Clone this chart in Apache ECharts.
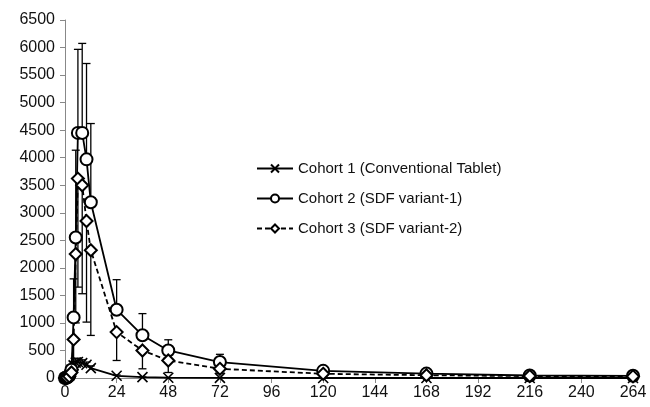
<!DOCTYPE html>
<html>
<head>
<meta charset="utf-8">
<script src="https://cdn.jsdelivr.net/npm/echarts@6/dist/echarts.min.js"></script>
<style>
  html, body { margin: 0; padding: 0; background: #fff; }
  #chart { width: 650px; height: 407px; }
</style>
</head>
<body>
<div id="chart"></div>
<script>
// time points (h)
const hours = [0, 0.5, 1, 2, 3, 4, 5, 6, 8, 10, 12, 24, 36, 48, 72, 120, 168, 216, 264];

// mean concentrations
const cohort1 = [0, 5, 20, 60, 150, 230, 280, 290, 270, 240, 180, 40, 15, 5, 2, 0, 0, 0, 0];
const cohort2 = [0, 2, 10, 40, 150, 1100, 2550, 4450, 4450, 3970, 3190, 1240, 775, 500, 290, 130, 80, 45, 40];
const cohort3 = [0, 2, 10, 30, 100, 700, 2250, 3620, 3500, 2850, 2320, 833, 500, 318, 167, 76, 50, 35, 30];

// SD (cohort 1 & 2 drawn upward, cohort 3 drawn downward)
const sd1 = [0, 0, 5, 20, 50, 60, 70, 70, 60, 50, 40, 15, 5, 2, 0, 0, 0, 0, 0];
const sd2 = [0, 0, 0, 20, 80, 700, 1586, 1517, 1625, 1740, 1430, 545, 394, 194, 140, 40, 30, 15, 10];
const sd3 = [0, 0, 0, 0, 0, 400, 1250, 1970, 1970, 1835, 1547, 515, 333, 218, 80, 30, 20, 10, 10];

const names = [
  "Cohort 1 (Conventional Tablet)",
  "Cohort 2 (SDF variant-1)",
  "Cohort 3 (SDF variant-2)",
];

const crossPath = "path://M0,0L10,10M10,0L0,10";

const pairs = (ys) => hours.map((t, i) => [t, ys[i]]);
const errData = (ys, sd, dir) => hours.map((t, i) => [t, ys[i], sd[i], dir]);

const renderErr = (params, api) => {
  const t = api.value(0);
  const v = api.value(1);
  const sd = api.value(2);
  const dir = api.value(3);
  if (!sd) return;
  const p1 = api.coord([t, v]);
  const p2 = api.coord([t, v + dir * sd]);
  const style = { stroke: "#000", lineWidth: 1.3 };
  return {
    type: "group",
    children: [
      { type: "line", shape: { x1: p1[0], y1: p1[1], x2: p2[0], y2: p2[1] }, style },
      { type: "line", shape: { x1: p2[0] - 4, y1: p2[1], x2: p2[0] + 4, y2: p2[1] }, style },
    ],
  };
};

const chart = echarts.init(document.getElementById("chart"));
const font = "Liberation Sans, Arial, sans-serif";

chart.setOption({
  animation: false,
  grid: { left: 65, right: 17, top: 20, bottom: 29 },
  legend: {
    orient: "vertical",
    left: 251,
    top: 156,
    itemWidth: 36,
    itemHeight: 10,
    itemGap: 15,
    data: names,
    textStyle: { fontFamily: font, fontSize: 15, color: "#111" },
  },
  xAxis: {
    type: "value",
    min: 0,
    max: 264,
    interval: 24,
    axisLine: { lineStyle: { color: "#888" } },
    axisTick: { show: true, length: 5, lineStyle: { color: "#888" } },
    axisLabel: { fontFamily: font, fontSize: 16, color: "#111", margin: 7 },
    splitLine: { show: false },
  },
  yAxis: {
    type: "value",
    min: 0,
    max: 6500,
    interval: 500,
    axisLine: { show: true, lineStyle: { color: "#888" } },
    axisTick: { show: true, length: 5, lineStyle: { color: "#888" } },
    axisLabel: {
      fontFamily: font, fontSize: 16, color: "#111", margin: 10,
      formatter: (v) => String(v),
    },
    splitLine: { show: false },
  },
  series: [
    {
      type: "custom",
      renderItem: renderErr,
      data: errData(cohort1, sd1, 1),
      encode: { x: 0, y: 1 },
      z: 1,
    },
    {
      type: "custom",
      renderItem: renderErr,
      data: errData(cohort2, sd2, 1),
      encode: { x: 0, y: 1 },
      z: 1,
    },
    {
      type: "custom",
      renderItem: renderErr,
      data: errData(cohort3, sd3, -1),
      encode: { x: 0, y: 1 },
      z: 1,
    },
    {
      name: names[0],
      type: "line",
      data: pairs(cohort1),
      symbol: crossPath,
      symbolSize: 10,
      showAllSymbol: true,
      lineStyle: { color: "#000", width: 1.8 },
      itemStyle: { color: "#000", borderColor: "#000", borderWidth: 1.6 },
      z: 3,
    },
    {
      name: names[1],
      type: "line",
      data: pairs(cohort2),
      symbol: "emptyCircle",
      symbolSize: 12,
      showAllSymbol: true,
      lineStyle: { color: "#000", width: 1.8 },
      itemStyle: { color: "#000", borderWidth: 1.6 },
      z: 3,
    },
    {
      name: names[2],
      type: "line",
      data: pairs(cohort3),
      symbol: "emptyDiamond",
      symbolSize: 12,
      showAllSymbol: true,
      lineStyle: { color: "#000", width: 1.8, type: [5, 3] },
      itemStyle: { color: "#000", borderWidth: 1.6 },
      z: 3,
    },
  ],
});
</script>
</body>
</html>
